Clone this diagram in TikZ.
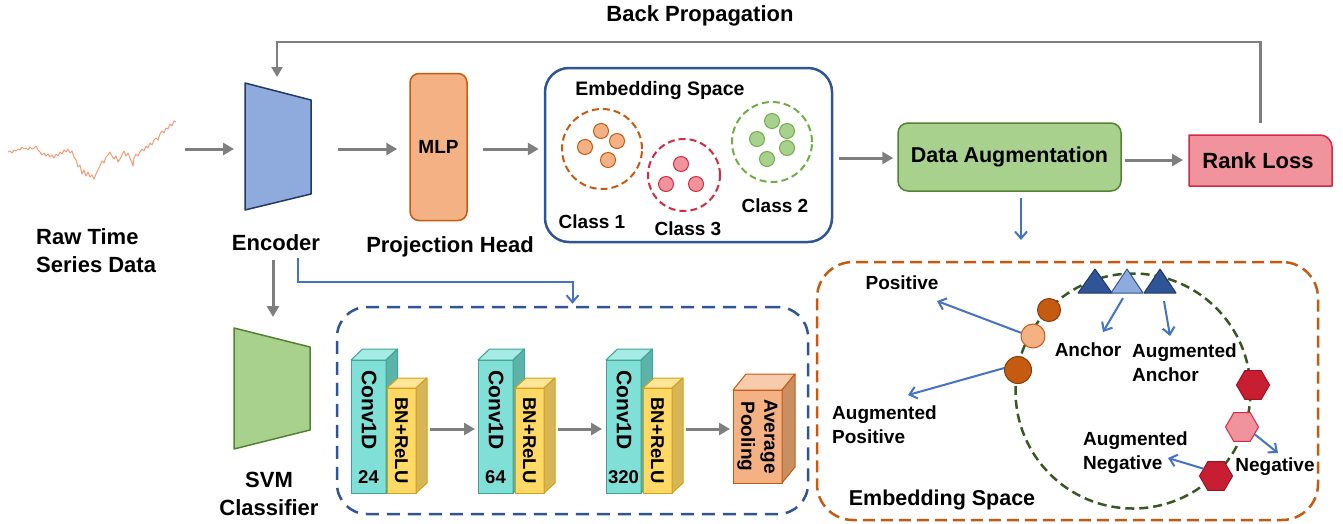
\documentclass[tikz,border=0pt]{standalone}
\usepackage{fontspec}
\setmainfont{Liberation Sans}
\usetikzlibrary{arrows.meta,calc,shapes.geometric}

\definecolor{arrgray}{HTML}{7F7F7F}
\definecolor{arrblue}{HTML}{4472C4}
\definecolor{navy}{HTML}{2F5597}
\definecolor{navydark}{HTML}{1F3864}
\definecolor{encfill}{HTML}{8FAADC}
\definecolor{orfill}{HTML}{F4B183}
\definecolor{orline}{HTML}{C55A11}
\definecolor{ordark}{HTML}{843C0C}
\definecolor{grfill}{HTML}{A9D18E}
\definecolor{grline}{HTML}{548235}
\definecolor{grdark}{HTML}{385723}
\definecolor{grdot}{HTML}{70AD47}
\definecolor{pkfill}{HTML}{F0939D}
\definecolor{pkline}{HTML}{D42A45}
\definecolor{hexdark}{HTML}{C81E32}
\definecolor{hexline}{HTML}{A01020}
\definecolor{series}{HTML}{F29A74}
\definecolor{cyfront}{HTML}{80E0D8}
\definecolor{cytop}{HTML}{A6EBE4}
\definecolor{cyside}{HTML}{5DB3AA}
\definecolor{cyline}{HTML}{3FA396}
\definecolor{yefront}{HTML}{FFD966}
\definecolor{yetop}{HTML}{FFE699}
\definecolor{yeside}{HTML}{D6B656}
\definecolor{yeline}{HTML}{D4A017}
\definecolor{pofront}{HTML}{F4B183}
\definecolor{potop}{HTML}{F8CBAD}
\definecolor{poside}{HTML}{C98F62}
\definecolor{poline}{HTML}{C55A11}

% a 3-D layer block: name, centre, width, height, depth x, depth y, colour prefix
\newcommand{\layerblock}[7]{%
  \node[fill=#7front, draw=#7line, line width=1pt, minimum width=#3, minimum height=#4,
        inner sep=0, outer sep=0] (#1) at #2 {};
  \filldraw[fill=#7top, draw=#7line, line width=1pt, line join=round]
    (#1.north west) -- ++(#5,#6) -- ($(#1.north east)+(#5,#6)$) -- (#1.north east) -- cycle;
  \filldraw[fill=#7side, draw=#7line, line width=1pt, line join=round]
    (#1.north east) -- ++(#5,#6) -- ($(#1.south east)+(#5,#6)$) -- (#1.south east) -- cycle;
}

\begin{document}
\begin{tikzpicture}[x=1pt,y=-1pt,
  garrow/.style={draw=arrgray, line width=3pt, -{Triangle[length=11pt,width=12pt]}},
  barrow/.style={draw=arrblue, line width=2pt, -{Straight Barb[length=7pt,width=12pt]}},
  big/.style={font=\fontsize{22}{28}\selectfont\bfseries, align=center, inner sep=0},
  mid/.style={font=\fontsize{19}{24}\selectfont\bfseries, align=left, inner sep=0},
  blank/.style={inner sep=0, outer sep=0},
  dot/.style={circle, line width=1pt, minimum size=15pt, inner sep=0},
  hexa/.style={regular polygon, regular polygon sides=6, minimum size=33pt, inner sep=0, line width=1pt},
  conv/.style={rotate=-90, font=\fontsize{21}{24}\selectfont\bfseries, inner sep=0},
  bnr/.style={rotate=-90, font=\fontsize{18.5}{22}\selectfont\bfseries, inner sep=0},
  num/.style={font=\fontsize{18.5}{22}\selectfont\bfseries, inner sep=0},
]
\useasboundingbox (0,0) rectangle (1343,523);

% ---------- raw series ----------
\node[blank, minimum width=170pt, minimum height=62pt] (raw) at (92,149) {};
\draw[series, line width=1pt, line join=round] plot coordinates {
(8,152) (10,151) (12,153) (14,150) (16,151) (18,149) (20,150) (22,147) (24,149) (26,148)
(28,150) (30,147) (32,149) (34,148) (36,146) (38,150) (40,152) (42,155) (44,153) (46,156)
(48,154) (50,157) (52,155) (54,158) (56,154) (58,156) (60,152) (62,154) (64,150) (66,152)
(68,149) (70,153) (72,151) (74,157) (76,160) (78,167) (80,165) (82,174) (84,170) (86,176)
(88,172) (90,177) (92,175) (94,179) (96,174) (98,170) (100,166) (102,161) (104,163) (106,157)
(108,155) (110,152) (112,156) (114,159) (116,156) (118,162) (120,159) (122,155) (124,151) (126,156)
(128,153) (130,158) (132,163) (133,166) (134,158) (136,154) (138,156) (140,152) (142,149) (144,151)
(146,146) (148,148) (150,143) (152,145) (154,140) (156,138) (158,140) (160,134) (162,131) (164,133)
(166,128) (168,129) (170,124) (172,126) (174,121) (176,122)};
\node[big, align=left, anchor=west] (rawlbl) at (36,251) {Raw Time\\Series Data};

% ---------- encoder ----------
\node[blank, minimum width=66pt, minimum height=127pt] (enc) at (278,146.5) {};
\filldraw[fill=encfill, draw=navydark, line width=1.5pt, line join=round]
  (enc.north west) -- ($(enc.north east)+(0,17)$) -- ($(enc.south east)+(0,-16)$) -- (enc.south west) -- cycle;
\node[big] (enclbl) at (276,243) {Encoder};

% ---------- projection head ----------
\node[fill=orfill, draw=orline, line width=1.5pt, rounded corners=9pt,
      minimum width=57pt, minimum height=147pt, inner sep=0] (mlp) at (438.5,147)
      {\fontsize{19}{22}\selectfont\bfseries MLP};
\node[big] (mlplbl) at (450,247) {Projection Head};

% ---------- embedding space (top) ----------
\node[draw=navy, line width=2.5pt, rounded corners=24pt, minimum width=287pt,
      minimum height=174pt, inner sep=0] (emb) at (688.5,155) {};
\node[font=\fontsize{19.5}{22}\selectfont\bfseries, inner sep=0] (embtitle) at (660,90) {Embedding Space};
\node[circle, draw=orline, line width=2pt, dash pattern=on 7pt off 4pt, minimum size=80pt] (c1) at (602,149) {};
\node[circle, draw=pkline, line width=2pt, dash pattern=on 7pt off 4pt, minimum size=72pt] (c3) at (684,175) {};
\node[circle, draw=grdot, line width=2pt, dash pattern=on 7pt off 4pt, minimum size=80pt] (c2) at (772,142) {};
\foreach \p [count=\i] in {(601,131),(585,147),(617,141),(608,160)}
  \node[dot, fill=orfill, draw=orline] (o\i) at \p {};
\foreach \p [count=\i] in {(681,164),(666,184),(696,184)}
  \node[dot, fill=pkfill, draw=pkline] (r\i) at \p {};
\foreach \p [count=\i] in {(772,121),(787,131),(757,139),(787,148),(767,159)}
  \node[dot, fill=grfill, draw=grdot] (g\i) at \p {};
\node[font=\fontsize{19}{22}\selectfont\bfseries, inner sep=0] (cl1) at (592,222) {Class 1};
\node[font=\fontsize{19}{22}\selectfont\bfseries, inner sep=0] (cl3) at (688,229) {Class 3};
\node[font=\fontsize{19}{22}\selectfont\bfseries, inner sep=0] (cl2) at (775,206) {Class 2};

% ---------- data augmentation and loss ----------
\node[fill=grfill, draw=grline, line width=1.5pt, rounded corners=10pt,
      minimum width=223pt, minimum height=68pt, inner sep=0] (da) at (1009.5,157)
      {\fontsize{21.5}{24}\selectfont\bfseries Data Augmentation};
\node[blank, minimum width=143pt, minimum height=51pt] (rl) at (1260.5,160.5) {};
\filldraw[fill=pkfill, draw=pkline, line width=1.5pt, line join=round]
  (rl.south west) -- (rl.north west) -- ($(rl.north east)+(-12,0)$)
  .. controls +(6.6,0) and +(0,-6.6) .. ($(rl.north east)+(0,12)$)
  -- (rl.south east) -- cycle;
\node[big] (rllbl) at (1258,161) {Rank Loss};

\node[big] (bplbl) at (700,16) {Back Propagation};
\coordinate (bpline) at (700,42);

% ---------- main connectors ----------
\draw[garrow] ($(raw.east)+(8,0)$) -- ($(raw.east -| enc.west)+(-11,0)$);
\draw[garrow] ($(enc.east)+(27,2.5)$) -- ($(mlp.west)+(-12,2)$);
\draw[garrow] ($(mlp.east)+(15,2)$) -- ($(emb.west)+(-5,-6)$);
\draw[garrow] ($(emb.east)+(6,3)$) -- ($(da.west)+(-4,1)$);
\draw[garrow] ($(da.east)+(3,3)$) -- ($(rl.west)+(-6,-0.5)$);
\draw[draw=arrgray, line width=2.7pt, -{Triangle[length=10pt,width=11pt]}]
  ($(rl.north)+(0,-12)$) |- (bpline) -| ($(enc.north)+(-1,-6)$);
\draw[barrow] ($(da.south)+(11.5,6)$) -- (1021,240) coordinate (daend);

% ---------- SVM classifier ----------
\node[blank, minimum width=76pt, minimum height=121pt] (svm) at (272,388.5) {};
\filldraw[fill=grfill, draw=grline, line width=1.5pt, line join=round]
  (svm.north west) -- ($(svm.north east)+(0,19)$) -- ($(svm.south east)+(0,-19)$) -- (svm.south west) -- cycle;
\node[big] (svmlbl) at (269,494) {SVM\\Classifier};
\draw[garrow] ($(enclbl.center)+(-3,17)$) -- ($(svm.north)+(1,-11)$);

% ---------- encoder internals ----------
\node[draw=navy, line width=2.5pt, dash pattern=on 13pt off 8pt, rounded corners=30pt,
      minimum width=471pt, minimum height=207pt, inner sep=0] (cnn) at (572.5,410.5) {};
\draw[barrow] ($(enclbl.center)+(22,15)$) |- ($(cnn.north)+(0,-24)$) -- ($(cnn.north)+(0,-2)$);

\layerblock{cv1}{(368.5,426.5)}{35pt}{133pt}{11.5}{-11}{cy}
\layerblock{bn1}{(401.5,440.5)}{29pt}{105pt}{11}{-10}{ye}
\layerblock{cv2}{(495.5,426.5)}{35pt}{133pt}{11.5}{-11}{cy}
\layerblock{bn2}{(529.5,440.5)}{29pt}{105pt}{11}{-10}{ye}
\layerblock{cv3}{(623.5,426.5)}{35pt}{133pt}{11.5}{-11}{cy}
\layerblock{bn3}{(657.5,440.5)}{29pt}{105pt}{11}{-10}{ye}
\layerblock{pool}{(757.5,436.5)}{49pt}{93pt}{13}{-16}{po}

\node[conv] (cv1t) at ($(cv1)+(0.5,-16.5)$) {Conv1D};
\node[conv] (cv2t) at ($(cv2)+(0.5,-16.5)$) {Conv1D};
\node[conv] (cv3t) at ($(cv3)+(0.5,-16.5)$) {Conv1D};
\node[num] (cv1n) at ($(cv1)+(0,50.5)$) {24};
\node[num] (cv2n) at ($(cv2)+(0,50.5)$) {64};
\node[num] (cv3n) at ($(cv3)+(0,51)$) {320};
\node[bnr] (bn1t) at (bn1) {BN+ReLU};
\node[bnr] (bn2t) at (bn2) {BN+ReLU};
\node[bnr] (bn3t) at (bn3) {BN+ReLU};
\node[bnr, align=center, font=\fontsize{19}{23}\selectfont\bfseries] (poolt) at (pool) {Average\\Pooling};

\draw[garrow] ($(bn1.east)+(14,-11.5)$) -- ($(cv2.west)+(-3,2.5)$);
\draw[garrow] ($(bn2.east)+(14,-11.5)$) -- ($(cv3.west)+(-4,2.5)$);
\draw[garrow] ($(bn3.east)+(14,-11.5)$) -- ($(pool.west)+(-3,-7.5)$);

% ---------- embedding space (triplets) ----------
\node[draw=orline, line width=2.5pt, dash pattern=on 12pt off 6pt, rounded corners=36pt,
      minimum width=501pt, minimum height=258pt, inner sep=0] (es) at (1067.5,391) {};
\node[circle, draw=grdark, line width=2.5pt, dash pattern=on 9pt off 5pt,
      minimum size=235pt, inner sep=0] (ring) at (1133,391) {};

\filldraw[fill=navy, draw=navydark, line width=1pt, line join=round]
  (1078,293) -- (1095,269) -- (1112,293) -- cycle;
\filldraw[fill=encfill, draw=navy, line width=1pt, line join=round]
  (1111,293) -- (1127,269) -- (1143,293) -- cycle;
\filldraw[fill=navy, draw=navydark, line width=1pt, line join=round]
  (1144,293) -- (1160,269) -- (1176,293) -- cycle;
\coordinate (ancb) at (1127,293);
\coordinate (augb) at (1160,293);

\node[circle, fill=orline, draw=ordark, line width=1pt, minimum size=23pt, inner sep=0] (p1) at (1049,310) {};
\node[circle, fill=orfill, draw=orline, line width=1pt, minimum size=24pt, inner sep=0] (p2) at (1033,336) {};
\node[circle, fill=orline, draw=ordark, line width=1pt, minimum size=27pt, inner sep=0] (p3) at (1018,370) {};

\node[hexa, fill=hexdark, draw=hexline] (n1) at (1253,385) {};
\node[hexa, fill=pkfill, draw=pkline] (n2) at (1242,427) {};
\node[hexa, fill=hexdark, draw=hexline] (n3) at (1216,476) {};

\node[mid] (posl) at (902,283) {Positive};
\node[mid, anchor=west] (augpl) at (832,424.5) {Augmented\\Positive};
\node[mid] (ancl) at (1088,350) {Anchor};
\node[mid, anchor=west] (augal) at (1132,363) {Augmented\\Anchor};
\node[mid, anchor=west] (augnl) at (1083,453) {Augmented\\Negative};
\node[mid] (negl) at (1275,467) {Negative};
\node[font=\fontsize{21.5}{24}\selectfont\bfseries, inner sep=0] (estitle) at (942,500) {Embedding Space};

\draw[barrow] (p2.165) -- ($(posl.center)+(35,18)$);
\draw[barrow] (p3.172) -- ($(augpl.west)+(76,-29.5)$);
\draw[barrow] ($(ancb)+(-4,5)$) -- ($(ancl.center)+(15,-18)$);
\draw[barrow] ($(augb)+(4,8)$) -- ($(augal.west)+(38,-27)$);
\draw[barrow] (n2.-30) -- ($(negl.center)+(3,-14)$);
\draw[barrow] (n3.150) -- ($(augnl.west)+(85,5)$);

\end{tikzpicture}
\end{document}
